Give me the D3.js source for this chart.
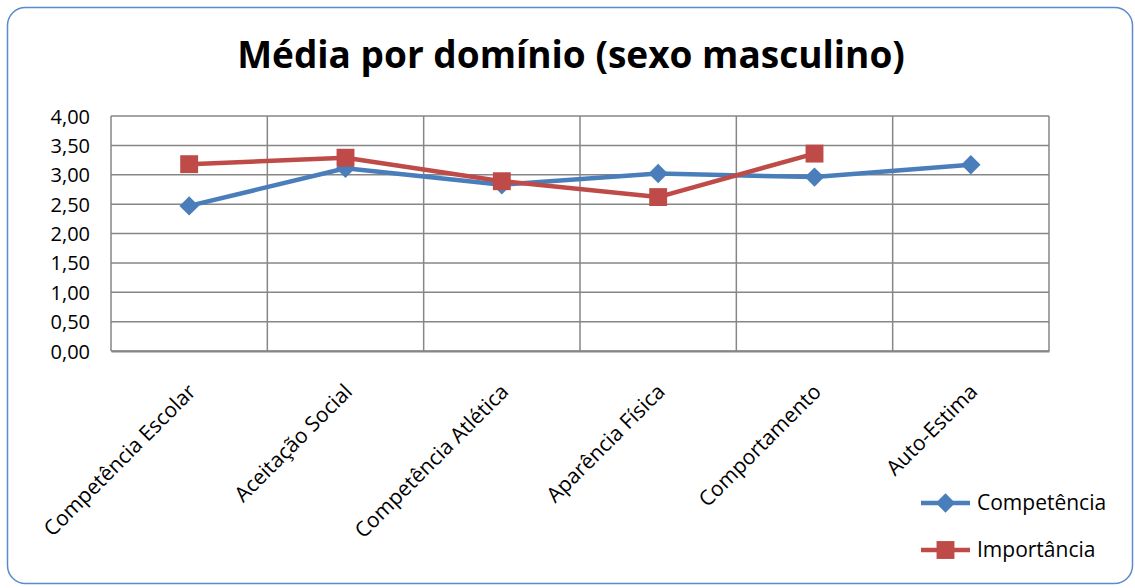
<!DOCTYPE html>
<html><head><meta charset="utf-8">
<script src="https://cdn.jsdelivr.net/npm/d3@7"></script>
<style>body{margin:0;background:#fff;} text{font-family:"Open Sans",sans-serif;}</style>
</head><body>
<svg id="c" width="1135" height="588"></svg>
<script>
const categories = ["Competência Escolar","Aceitação Social","Competência Atlética","Aparência Física","Comportamento","Auto-Estima"];
const competencia = [2.47, 3.11, 2.83, 3.02, 2.96, 3.17];
const importancia = [3.18, 3.29, 2.89, 2.62, 3.36, null];
const yTicks = [0,0.5,1,1.5,2,2.5,3,3.5,4];
const seriesNames = ["Competência","Importância"];
const colors = ["#4A7EBB","#BE4B48"];

const svg = d3.select("#c");
svg.append("rect").attr("x",7.5).attr("y",7.5).attr("width",1125).attr("height",576)
  .attr("rx",18).attr("fill","#fff").attr("stroke","#5B8BC9").attr("stroke-width",1.5);

svg.append("text").attr("x",571).attr("y",68).attr("text-anchor","middle")
  .attr("font-size",37).attr("font-weight","bold").attr("fill","#000")
  .text("Média por domínio (sexo masculino)");

const L=111,R=1049,T=116,B=351;
const x = d3.scaleBand().domain(categories).range([L,R]);
const y = d3.scaleLinear().domain([0,4]).range([B,T]);

const g = svg.append("g");
g.selectAll(".hg").data(yTicks).join("line")
  .attr("x1",L).attr("x2",R).attr("y1",d=>y(d)).attr("y2",d=>y(d))
  .attr("stroke","#868686").attr("stroke-width",1.5);
const vb = categories.map(c=>x(c)).concat([R]);
g.selectAll(".vg").data(vb).join("line")
  .attr("x1",d=>d).attr("x2",d=>d).attr("y1",T).attr("y2",B)
  .attr("stroke","#868686").attr("stroke-width",1.5);

const yAxis = d3.axisLeft(y).tickValues(yTicks).tickSize(0).tickPadding(0)
  .tickFormat(d=>d3.format(".2f")(d).replace(".",","));
const ya = svg.append("g").attr("transform",`translate(${L-21},0)`).call(yAxis);
ya.select(".domain").remove();
ya.selectAll("text").attr("font-size",20).attr("fill","#000").attr("font-family","Open Sans").attr("dy","0.35em");

const xAxis = d3.axisBottom(x).tickSize(0).tickPadding(0);
const xa = svg.append("g").attr("transform",`translate(0,${B})`).call(xAxis);
xa.select(".domain").attr("stroke","#868686").attr("stroke-width",2);
xa.selectAll(".tick text").attr("font-size",21).attr("fill","#000").attr("font-family","Open Sans")
  .attr("text-anchor","end").attr("dy",0).attr("y",0)
  .attr("transform","translate(8,42) rotate(-45)");

const cx = d=>x(d)+x.bandwidth()/2;
const series = [competencia, importancia];
const markers = [
  d3.symbol().type(d3.symbolDiamond2).size(240)(),
  d3.symbol().type(d3.symbolSquare).size(320)()
];
series.forEach((vals,i)=>{
  const pts = categories.map((c,j)=>({c,v:vals[j]}));
  const line = d3.line().defined(d=>d.v!=null).x(d=>cx(d.c)).y(d=>y(d.v));
  svg.append("path").datum(pts).attr("d",line).attr("fill","none")
    .attr("stroke",colors[i]).attr("stroke-width",4.5).attr("stroke-linejoin","round");
  svg.selectAll(".m"+i).data(pts.filter(d=>d.v!=null)).join("path")
    .attr("d",markers[i])
    .attr("transform",d=>`translate(${cx(d.c)},${y(d.v)})`)
    .attr("fill",colors[i]);
});

seriesNames.forEach((n,i)=>{
  const ly = 503 + i*47;
  svg.append("line").attr("x1",921).attr("x2",970).attr("y1",ly).attr("y2",ly)
    .attr("stroke",colors[i]).attr("stroke-width",4.5);
  svg.append("path").attr("d",markers[i])
    .attr("transform",`translate(945.5,${ly})`).attr("fill",colors[i]);
  svg.append("text").attr("x",977).attr("y",ly).attr("dy","0.35em").attr("font-size",21).attr("fill","#000").text(n);
});
</script>
</body></html>
